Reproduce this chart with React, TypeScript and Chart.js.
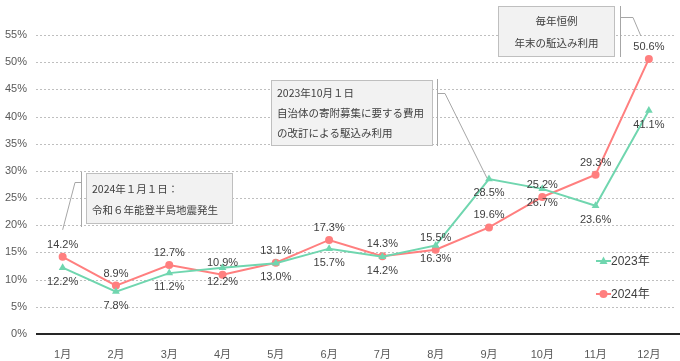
import React, { useEffect, useRef } from "react";
import { Chart, registerables } from "chart.js";

Chart.register(...registerables);

const months = ["1月", "2月", "3月", "4月", "5月", "6月", "7月", "8月", "9月", "10月", "11月", "12月"];
const series2023 = [12.2, 7.8, 11.2, 12.2, 13.0, 15.7, 14.2, 16.3, 28.5, 26.7, 23.6, 41.1];
const series2024 = [14.2, 8.9, 12.7, 10.9, 13.1, 17.3, 14.3, 15.5, 19.6, 25.2, 29.3, 50.6];
const yMax = 55;
const yStep = 5;
const legendLabels = ["2023年", "2024年"];
const noteA = ["2024年１月１日：", "令和６年能登半島地震発生"];
const noteB = ["2023年10月１日", "自治体の寄附募集に要する費用", "の改訂による駆込み利用"];
const noteC = ["毎年恒例", "年末の駈込み利用"];

const GREEN = "#70d6af";
const RED = "#ff7f7f";
const TEXT = "#404040";
const LATIN = '"Liberation Sans", Arial, "Noto Sans CJK JP", sans-serif';
const CJK = '"Noto Sans CJK JP", sans-serif';

const overlay = {
  id: "overlay",
  beforeDatasetsDraw(chart: any) {
    const ctx = chart.ctx;
    const y = chart.scales.y;
    const a = chart.chartArea;
    ctx.save();
    // dotted grid
    ctx.strokeStyle = "#bfbfbf";
    ctx.lineWidth = 1;
    ctx.setLineDash([2, 2]);
    y.ticks.forEach((t: any) => {
      if (t.value === 0) return;
      const py = Math.round(y.getPixelForValue(t.value)) + 0.5;
      ctx.beginPath();
      ctx.moveTo(a.left, py);
      ctx.lineTo(a.right, py);
      ctx.stroke();
    });
    ctx.setLineDash([]);
    const y0 = Math.round(y.getPixelForValue(0));
    ctx.strokeStyle = "#262626";
    ctx.lineWidth = 2;
    ctx.beginPath();
    ctx.moveTo(a.left, y0);
    ctx.lineTo(chart.width, y0);
    ctx.stroke();
    ctx.restore();
  },
  afterDatasetsDraw(chart: any) {
    const ctx = chart.ctx;
    const m0 = chart.getDatasetMeta(0).data;
    const m1 = chart.getDatasetMeta(1).data;
    ctx.save();
    // data labels
    ctx.font = "11px " + LATIN;
    ctx.fillStyle = TEXT;
    ctx.textAlign = "center";
    ctx.textBaseline = "middle";
    series2023.forEach((v, i) => {
      const p = m0[i];
      ctx.fillText(v.toFixed(1) + "%", p.x, p.y + 14);
    });
    series2024.forEach((v, i) => {
      const p = m1[i];
      ctx.fillText(v.toFixed(1) + "%", p.x, p.y - 12);
    });

    // legend
    const legendItems = [
      { label: legendLabels[0], color: GREEN, style: "triangle", y: 261 },
      { label: legendLabels[1], color: RED, style: "circle", y: 294 },
    ];
    legendItems.forEach((it) => {
      ctx.strokeStyle = it.color;
      ctx.fillStyle = it.color;
      ctx.lineWidth = 2;
      ctx.beginPath();
      ctx.moveTo(596, it.y);
      ctx.lineTo(611, it.y);
      ctx.stroke();
      ctx.beginPath();
      if (it.style === "circle") {
        ctx.arc(603.5, it.y, 4, 0, Math.PI * 2);
      } else {
        ctx.moveTo(603.5, it.y - 4.5);
        ctx.lineTo(607.5, it.y + 3);
        ctx.lineTo(599.5, it.y + 3);
        ctx.closePath();
      }
      ctx.fill();
      ctx.fillStyle = TEXT;
      ctx.font = "12px " + LATIN;
      ctx.textAlign = "left";
      ctx.fillText(it.label, 611, it.y + 1);
    });

    // annotation boxes
    const drawBox = (x: number, y: number, w: number, h: number) => {
      ctx.fillStyle = "#f2f2f2";
      ctx.fillRect(x, y, w, h);
      ctx.strokeStyle = "#bfbfbf";
      ctx.lineWidth = 1;
      ctx.strokeRect(x + 0.5, y + 0.5, w - 1, h - 1);
    };
    const leader = (pts: number[][]) => {
      ctx.strokeStyle = "#a6a6a6";
      ctx.lineWidth = 1;
      ctx.beginPath();
      ctx.moveTo(pts[0][0], pts[0][1]);
      for (let k = 1; k < pts.length; k++) ctx.lineTo(pts[k][0], pts[k][1]);
      ctx.stroke();
    };

    // Note A
    const pA = m1[0];
    leader([[81.5, 172], [81.5, 227]]);
    leader([[81.5, 182.5], [75, 182.5], [pA.x, pA.y - 27]]);
    drawBox(86, 173, 147, 51);
    ctx.fillStyle = TEXT;
    ctx.font = "10.5px " + CJK;
    ctx.textAlign = "left";
    ctx.fillText(noteA[0], 92, 189);
    ctx.fillText(noteA[1], 92, 210);

    // Note B
    const pB = m0[8];
    leader([[437.5, 79], [437.5, 146]]);
    leader([[437.5, 93.5], [445, 93.5], [pB.x - 2, pB.y - 1]]);
    drawBox(271, 80, 162, 66);
    ctx.fillStyle = TEXT;
    ctx.font = "10.5px " + CJK;
    ctx.textAlign = "left";
    ctx.fillText(noteB[0], 277, 93);
    ctx.fillText(noteB[1], 277, 113);
    ctx.fillText(noteB[2], 277, 133);

    // Note C
    const pC = m1[11];
    leader([[620.5, 6], [620.5, 57]]);
    leader([[620.5, 17.5], [633, 17.5], [pC.x - 8, pC.y - 23]]);
    drawBox(498, 6, 117, 51);
    ctx.fillStyle = TEXT;
    ctx.font = "10.5px " + CJK;
    ctx.textAlign = "center";
    ctx.fillText(noteC[0], 556.5, 21);
    ctx.fillText(noteC[1], 556.5, 43);

    ctx.restore();
  },
};

export default function App() {
  const ref = useRef<HTMLCanvasElement | null>(null);
  useEffect(() => {
    if (!ref.current) return;
    const chart = new Chart(ref.current, {
      type: "line",
      data: {
        labels: months,
        datasets: [
          {
            label: legendLabels[0],
            data: series2023,
            borderColor: GREEN,
            backgroundColor: GREEN,
            borderWidth: 2,
            pointStyle: "triangle",
            pointRadius: 4.5,
            pointBorderWidth: 0,
            tension: 0,
          },
          {
            label: legendLabels[1],
            data: series2024,
            borderColor: RED,
            backgroundColor: RED,
            borderWidth: 2,
            pointStyle: "circle",
            pointRadius: 4,
            pointBorderWidth: 0,
            tension: 0,
          },
        ],
      },
      options: {
        responsive: false,
        animation: false,
        layout: { padding: { top: 35, right: 3, left: 0, bottom: 0 } },
        plugins: { legend: { display: false }, tooltip: { enabled: false } },
        scales: {
          x: {
            offset: true,
            grid: { display: false },
            border: { display: false },
            ticks: { color: "#595959", font: { size: 11, family: LATIN }, padding: 6, maxRotation: 0 },
            afterFit: (s: any) => {
              s.height = 27;
            },
          },
          y: {
            min: 0,
            max: yMax,
            ticks: {
              stepSize: yStep,
              color: "#595959",
              font: { size: 11, family: LATIN },
              padding: 9,
              callback: (v: any) => v + "%",
            },
            grid: { display: false, drawTicks: false },
            border: { display: false },
            afterFit: (s: any) => {
              s.width = 36;
            },
          },
        },
      },
      plugins: [overlay],
    });
    return () => chart.destroy();
  }, []);
  return (
    <div style={{ position: "absolute", left: 0, top: 0, width: 680, height: 361, background: "#fff" }}>
      <canvas ref={ref} width={680} height={361} style={{ display: "block" }} />
    </div>
  );
}
